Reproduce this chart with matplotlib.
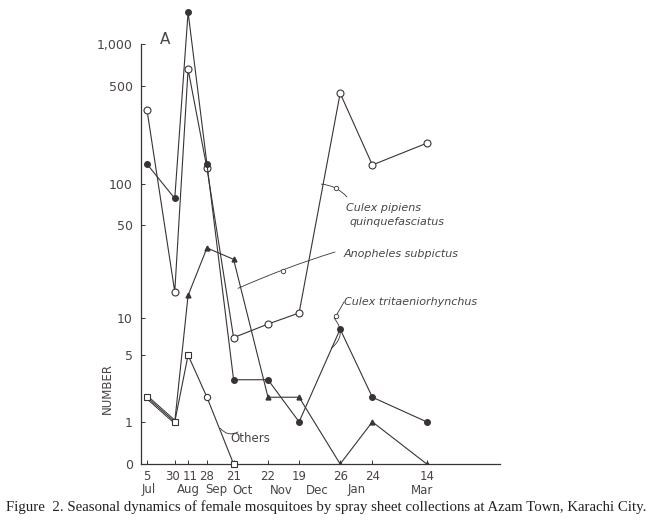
import numpy as np
import pandas as pd
import matplotlib
matplotlib.use('Agg')
import matplotlib.pyplot as plt
import matplotlib.transforms as mtransforms

# collection dates (day labels under the axis)
dates = pd.to_datetime(['1985-07-05', '1985-07-30', '1985-08-11', '1985-08-28', '1985-09-21',
                        '1985-10-22', '1985-11-19', '1985-12-26', '1986-01-24', '1986-03-14'])
day_labels = ['5', '30', '11', '28', '21', '22', '19', '26', '24', '14']
month_labels = ['Jul', 'Aug', 'Sep', 'Oct', 'Nov', 'Dec', 'Jan', 'Mar']
month_dates = pd.to_datetime(['1985-07-07', '1985-08-11', '1985-09-05', '1985-09-29',
                              '1985-11-03', '1985-12-05', '1986-01-10', '1986-03-10'])

# numbers per collection
pipiens = [337, 16, 660, 129, 7, 9, 11, 445, 136, 195]          # open circles
tritaen = [138, 78, 1690, 138, 3, 3, 1, 8.2, 2, 1]              # filled circles
subpictus = [2, 1, 15, 34, 28, 2, 2, 0, 1, 0]                   # triangles
others = [2, 1, 5, 2, 0]                                        # squares
others_dates = dates[:5]

yticks = [0, 1, 5, 10, 50, 100, 500, 1000]
ytick_labels = ['0', '1', '5', '10', '50', '100', '500', '1,000']

ink = '#3a3333'
txt = '#4a4444'
W, H = 650, 526


def fp(x, y):
    # figure pixel (from top-left) -> figure fraction
    return (x / W, 1 - y / H)


fig = plt.figure(figsize=(6.5, 5.26), dpi=100)
fig.patch.set_facecolor('white')
ax = fig.add_axes([141 / W, (H - 464) / H, (500 - 141) / W, (464 - 2) / H])

ax.set_yscale('function', functions=(lambda v: np.log10(np.clip(v, 0, None) + 1),
                                     lambda v: 10 ** v - 1))
ax.set_ylim(0, 2000)
ax.set_xlim(pd.Timestamp('1985-06-29 14:00'), pd.Timestamp('1986-05-19'))

lw = 0.8
ax.plot(dates, pipiens, color=ink, lw=lw, marker='o', ms=5, mfc='white', mec=ink, mew=0.8, zorder=3)
ax.plot(dates, tritaen, color=ink, lw=lw, marker='o', ms=4, mfc=ink, mec=ink, zorder=3)
ax.plot(dates, subpictus, color=ink, lw=lw, marker='^', ms=3.5, mfc=ink, mec=ink, zorder=3)

# others: first segment drawn as a hollow double line
ax.plot(others_dates[:2], others[:2], color=ink, lw=2.6, solid_capstyle='butt', zorder=2)
ax.plot(others_dates[:2], others[:2], color='white', lw=1.2, solid_capstyle='butt', zorder=2)
ax.plot(others_dates[1:], others[1:], color=ink, lw=lw, zorder=2)
other_marks = ['s', 's', 's', 'o', 's']
for d, v, m in zip(others_dates, others, other_marks):
    ax.plot([d], [v], marker=m, ms=4.5, mfc='white', mec=ink, mew=0.8, ls='none', zorder=4,
            clip_on=False)

for s in ['top', 'right']:
    ax.spines[s].set_visible(False)
ax.spines['left'].set_bounds(0, 1000)
for s in ['left', 'bottom']:
    ax.spines[s].set_color(ink)
    ax.spines[s].set_linewidth(0.9)

ax.set_yticks(yticks)
ax.set_yticklabels(ytick_labels)
ax.minorticks_off()
ax.set_xticks(dates)
ax.set_xticklabels(day_labels)
ax.tick_params(axis='both', direction='in', length=3, width=0.7, color=ink, labelcolor=txt)
ax.tick_params(axis='y', pad=6, labelsize=9)
ax.tick_params(axis='x', pad=4, labelsize=8.5)

# nudge the crowded "30" and "11" apart a little
for lbl, dx in zip(ax.get_xticklabels()[1:3], [-2.5, 2.5]):
    lbl.set_transform(lbl.get_transform() + mtransforms.Affine2D().translate(dx, 0))

trans = mtransforms.blended_transform_factory(ax.transData, fig.transFigure)
for d, m in zip(month_dates, month_labels):
    ax.text(d, 1 - 490 / H, m, transform=trans, ha='center', va='center',
            fontsize=8.5, color=txt)

fig.text(*fp(107, 388), 'NUMBER', rotation=90, ha='center', va='center',
         fontsize=8.5, color=txt)
fig.text(*fp(165, 39), 'A', ha='center', va='center', fontsize=11, color=txt)

# leaders and species labels
lead = dict(arrowstyle='-', color=ink, lw=0.6, shrinkA=0, shrinkB=0)
ax.annotate('', xy=(pd.Timestamp('1985-12-09'), 99), xytext=fp(347, 197),
            textcoords='figure fraction', arrowprops=dict(lead, connectionstyle='arc3,rad=0.2'))
ax.annotate('', xy=(pd.Timestamp('1985-09-25'), 17), xytext=fp(335, 252),
            textcoords='figure fraction', arrowprops=dict(lead, connectionstyle='arc3,rad=0.03'))
ax.annotate('', xy=(pd.Timestamp('1985-12-18'), 5.7), xytext=fp(334, 318),
            textcoords='figure fraction', arrowprops=dict(lead, connectionstyle='arc3,rad=-0.5'))
ax.annotate('', xy=(pd.Timestamp('1985-09-09'), 0.8), xytext=fp(238, 432),
            textcoords='figure fraction', arrowprops=dict(lead, connectionstyle='arc3,rad=-0.4'))
fig.add_artist(plt.Line2D([336 / W, 344 / W], [1 - 316 / H, 1 - 302 / H], color=ink, lw=0.6))
for px, py in [(336, 188), (283, 271), (336, 316)]:
    fig.add_artist(plt.Line2D([px / W], [1 - py / H], marker='o', ms=3.2, mfc='white',
                              mec=ink, mew=0.6, ls='none'))

lab = dict(fontsize=8, style='italic', color=txt, ha='left', va='center')
fig.text(*fp(346, 208), 'Culex pipiens', **lab)
fig.text(*fp(349, 222), 'quinquefasciatus', **lab)
fig.text(*fp(344, 254), 'Anopheles subpictus', **lab)
fig.text(*fp(344, 302), 'Culex tritaeniorhynchus', **lab)
fig.text(*fp(230, 438), 'Others', fontsize=8.5, color=txt, ha='left', va='center')

fig.text(*fp(6, 507), 'Figure  2. Seasonal dynamics of female mosquitoes by spray sheet '
         'collections at Azam Town, Karachi City.', family='Liberation Serif',
         fontsize=10.7, color='#222222', ha='left', va='center')

fig.savefig('out.png', dpi=100)
